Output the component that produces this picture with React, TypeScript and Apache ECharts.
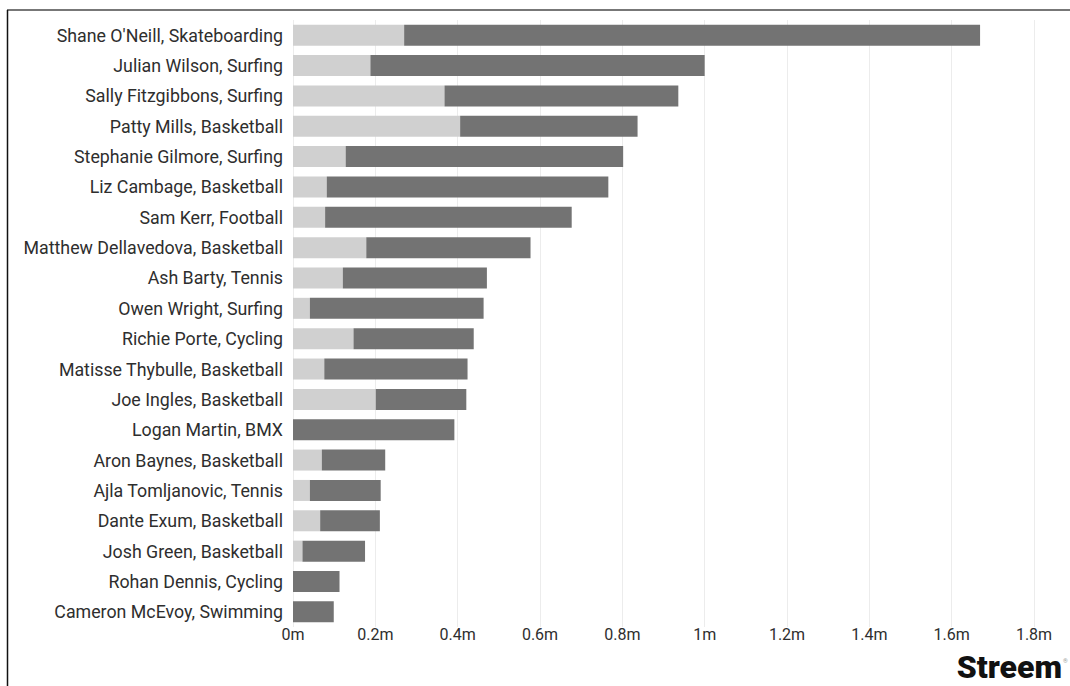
import React, { useEffect, useRef } from "react";
import * as echarts from "echarts";

const athletes = [
  "Shane O'Neill, Skateboarding",
  "Julian Wilson, Surfing",
  "Sally Fitzgibbons, Surfing",
  "Patty Mills, Basketball",
  "Stephanie Gilmore, Surfing",
  "Liz Cambage, Basketball",
  "Sam Kerr, Football",
  "Matthew Dellavedova, Basketball",
  "Ash Barty, Tennis",
  "Owen Wright, Surfing",
  "Richie Porte, Cycling",
  "Matisse Thybulle, Basketball",
  "Joe Ingles, Basketball",
  "Logan Martin, BMX",
  "Aron Baynes, Basketball",
  "Ajla Tomljanovic, Tennis",
  "Dante Exum, Basketball",
  "Josh Green, Basketball",
  "Rohan Dennis, Cycling",
  "Cameron McEvoy, Swimming",
];

// light (first) segment, in millions
const lightPart = [
  0.27, 0.188, 0.368, 0.406, 0.128, 0.082, 0.078, 0.178, 0.121, 0.041,
  0.147, 0.076, 0.201, 0, 0.07, 0.041, 0.066, 0.023, 0, 0,
];

// dark (second) segment, in millions
const darkPart = [
  1.399, 0.812, 0.568, 0.431, 0.674, 0.684, 0.599, 0.399, 0.35, 0.422,
  0.292, 0.348, 0.22, 0.392, 0.154, 0.172, 0.145, 0.152, 0.113, 0.099,
];

const xTicks = { min: 0, max: 1.8, interval: 0.2 };

export default function App() {
  const ref = useRef<HTMLDivElement>(null);

  useEffect(() => {
    if (!ref.current) return;
    const chart = echarts.init(ref.current, null, { renderer: "svg" });
    chart.setOption({
      animation: false,
      backgroundColor: "#ffffff",
      grid: { left: 293, right: 36, top: 20, bottom: 59, containLabel: false },
      xAxis: {
        type: "value",
        min: xTicks.min,
        max: xTicks.max,
        interval: xTicks.interval,
        axisLine: { show: false },
        axisTick: { show: false },
        splitLine: { show: true, lineStyle: { color: "#ececec", width: 1 } },
        axisLabel: {
          color: "#2e2e2e",
          fontFamily: "Roboto",
          fontSize: 16,
          margin: -1,
          formatter: (v: number) => `${Math.round(v * 10) / 10}m`,
        },
      },
      yAxis: {
        type: "category",
        inverse: true,
        data: athletes,
        axisLine: { show: false },
        axisTick: { show: false },
        axisLabel: {
          color: "#2e2e2e",
          fontFamily: "Roboto",
          fontSize: 17.8,
          margin: 10,
        },
      },
      series: [
        {
          type: "bar",
          stack: "total",
          data: lightPart,
          barWidth: 21,
          itemStyle: { color: "#d0d0d0" },
        },
        {
          type: "bar",
          stack: "total",
          data: darkPart,
          barWidth: 21,
          itemStyle: { color: "#737373" },
        },
      ],
      graphic: [
        {
          type: "line",
          shape: { x1: 7, y1: 10, x2: 1070, y2: 10 },
          style: { stroke: "#777777", lineWidth: 2 },
        },
        {
          type: "line",
          shape: { x1: 7.5, y1: 10, x2: 7.5, y2: 686 },
          style: { stroke: "#111111", lineWidth: 1.5 },
        },
        {
          type: "text",
          right: 8,
          top: 651,
          style: {
            text: "Streem",
            fill: "#111111",
            font: "900 32px Roboto",
          },
        },
        {
          type: "text",
          left: 1063,
          top: 657,
          style: {
            text: "®",
            fill: "#999999",
            font: "6px Roboto",
          },
        },
      ],
    });
    return () => chart.dispose();
  }, []);

  return (
    <div
      ref={ref}
      style={{ position: "fixed", left: 0, top: 0, width: 1070, height: 686 }}
    />
  );
}
